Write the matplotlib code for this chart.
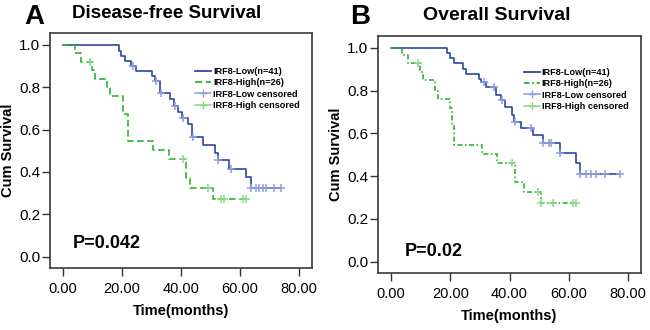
import numpy as np
import matplotlib
matplotlib.use('Agg')
import matplotlib.pyplot as plt
from matplotlib.lines import Line2D

plt.rcParams['font.family'] = ['Liberation Sans', 'DejaVu Sans']

# Disease-free survival (panel A)
dfs_low_t = [0, 19.0, 19.8, 20.9, 23.2, 24.7, 30.3, 31.1, 32.8, 36.2, 37.5, 39.0,
             40.4, 42.4, 43.6, 47.4, 51.4, 52.5, 56.4, 62.1, 63.7, 73.9]
dfs_low_s = [1.0, 0.972, 0.948, 0.922, 0.898, 0.875, 0.850, 0.831, 0.771, 0.742, 0.709,
             0.682, 0.652, 0.624, 0.565, 0.526, 0.487, 0.455, 0.416, 0.374, 0.323, 0.323]
dfs_low_cens = [23.8, 31.6, 33.1, 37.8, 40.6, 44.0, 52.5, 56.8, 63.7, 65.4, 66.6,
                67.7, 68.8, 71.6, 73.9]
dfs_high_t = [0, 4.1, 6.1, 9.7, 11.0, 15.0, 16.1, 20.2, 21.9, 30.6, 35.9, 41.8, 42.9,
              50.8, 62.1]
dfs_high_s = [1.0, 0.961, 0.920, 0.881, 0.839, 0.797, 0.756, 0.675, 0.545, 0.502,
              0.463, 0.369, 0.322, 0.271, 0.271]
dfs_high_cens = [9.1, 40.6, 49.1, 53.6, 54.7, 60.9, 62.1]

# Overall survival (panel B)
os_low_t = [0, 19.0, 19.9, 21.2, 24.3, 25.2, 29.7, 30.5, 32.0, 35.4, 37.1, 38.4, 41.0,
            41.6, 43.8, 47.8, 51.2, 57.1, 62.5, 63.8, 77.4]
os_low_s = [1.0, 0.976, 0.950, 0.927, 0.903, 0.878, 0.855, 0.841, 0.818, 0.779, 0.756,
            0.724, 0.686, 0.654, 0.623, 0.592, 0.556, 0.509, 0.460, 0.410, 0.410]
os_low_cens = [31.4, 34.8, 37.6, 41.9, 47.2, 51.2, 53.4, 54.0, 57.1, 63.8, 65.9, 67.6,
               69.2, 72.1, 77.4]
os_high_t = [0, 3.7, 5.8, 9.9, 10.7, 15.0, 15.8, 19.9, 20.6, 21.4, 30.8, 35.9, 41.9,
             44.9, 50.8, 62.8]
os_high_s = [1.0, 0.966, 0.927, 0.888, 0.849, 0.802, 0.760, 0.717, 0.640, 0.545, 0.503,
             0.463, 0.374, 0.324, 0.273, 0.273]
os_high_cens = [9.2, 41.0, 49.5, 50.8, 54.7, 61.4, 62.5]

labels = ['IRF8-Low(n=41)', 'IRF8-High(n=26)', 'IRF8-Low censored', 'IRF8-High censored']
xticks = [0, 20, 40, 60, 80]
yticks = [0.0, 0.2, 0.4, 0.6, 0.8, 1.0]

BLUE = '#2e45a6'
GREEN = '#2fb52f'
BLUE_C = '#8d9de0'
GREEN_C = '#86d986'

W, H = 650, 330


def box(l, t, r, b):
    return [l / W, 1 - b / H, (r - l) / W, (b - t) / H]


def step_value(t, s, x):
    i = np.searchsorted(np.array(t), x, side='right') - 1
    return s[max(i, 0)]


def panel(ax, low_t, low_s, low_c, high_t, high_s, high_c, green_ls, leg_y):
    ax.step(low_t, low_s, where='post', color=BLUE, lw=1.2)
    ax.step(high_t, high_s, where='post', color=GREEN, lw=1.2, linestyle=green_ls)
    ax.plot(low_c, [step_value(low_t, low_s, c) for c in low_c], '+', color=BLUE_C,
            ms=6, mew=1.1)
    ax.plot(high_c, [step_value(high_t, high_s, c) for c in high_c], '+', color=GREEN_C,
            ms=6, mew=1.1)
    ax.set_xlim(-4.4, 84.4)
    ax.set_ylim(-0.053, 1.055)
    ax.set_xticks(xticks)
    ax.set_xticklabels(['%.2f' % v for v in xticks], fontsize=10.5)
    ax.set_yticks(yticks)
    ax.set_yticklabels(['%.1f' % v for v in yticks], fontsize=11)
    ax.tick_params(direction='out', length=6, width=1, color='#333333')
    ax.tick_params(axis='x', pad=4)
    ax.tick_params(axis='y', pad=1)
    for sp in ax.spines.values():
        sp.set_color('#3a3a3a')
        sp.set_linewidth(1.2)
    ax.set_xlabel('Time(months)', fontsize=10.5, fontweight='bold', labelpad=6)
    ax.set_ylabel('Cum Survival', fontsize=10.5, fontweight='bold', labelpad=3)
    handles = [Line2D([], [], color=BLUE, lw=1.3),
               Line2D([], [], color=GREEN, lw=1.3, linestyle=green_ls),
               Line2D([], [], color=BLUE_C, lw=1.1, marker='+', ms=6),
               Line2D([], [], color=GREEN_C, lw=1.1, marker='+', ms=6)]
    ax.legend(handles, labels, loc='upper left', bbox_to_anchor=(0.555, leg_y),
              frameon=False, prop={'size': 6.6, 'weight': 'bold'}, handlelength=1.7,
              handletextpad=0.25, labelspacing=0.25, borderpad=0, borderaxespad=0)


fig = plt.figure(figsize=(6.5, 3.3), dpi=100)

ax1 = fig.add_axes(box(50, 33, 312, 268))
panel(ax1, dfs_low_t, dfs_low_s, dfs_low_cens, dfs_high_t, dfs_high_s, dfs_high_cens,
      (0, (4, 2)), 0.855)
ax1.text(0.085, 0.085, 'P=0.042', transform=ax1.transAxes, fontsize=13, fontweight='bold')

ax2 = fig.add_axes(box(378, 36, 641, 273))
panel(ax2, os_low_t, os_low_s, os_low_cens, os_high_t, os_high_s, os_high_cens,
      (0, (3, 1.5, 1, 1.5)), 0.865)
ax2.text(0.1, 0.07, 'P=0.02', transform=ax2.transAxes, fontsize=13, fontweight='bold')

fig.text(34 / W, 1 - 17 / H, 'A', fontsize=20, fontweight='bold', ha='center', va='center')
fig.text(167 / W, 1 - 13 / H, 'Disease-free Survival', fontsize=13.5, fontweight='bold',
         ha='center', va='center')
fig.text(360 / W, 1 - 17 / H, 'B', fontsize=20, fontweight='bold', ha='center', va='center')
fig.text(497 / W, 1 - 15 / H, 'Overall Survival', fontsize=14, fontweight='bold',
         ha='center', va='center')

fig.savefig('out.png', dpi=100)
